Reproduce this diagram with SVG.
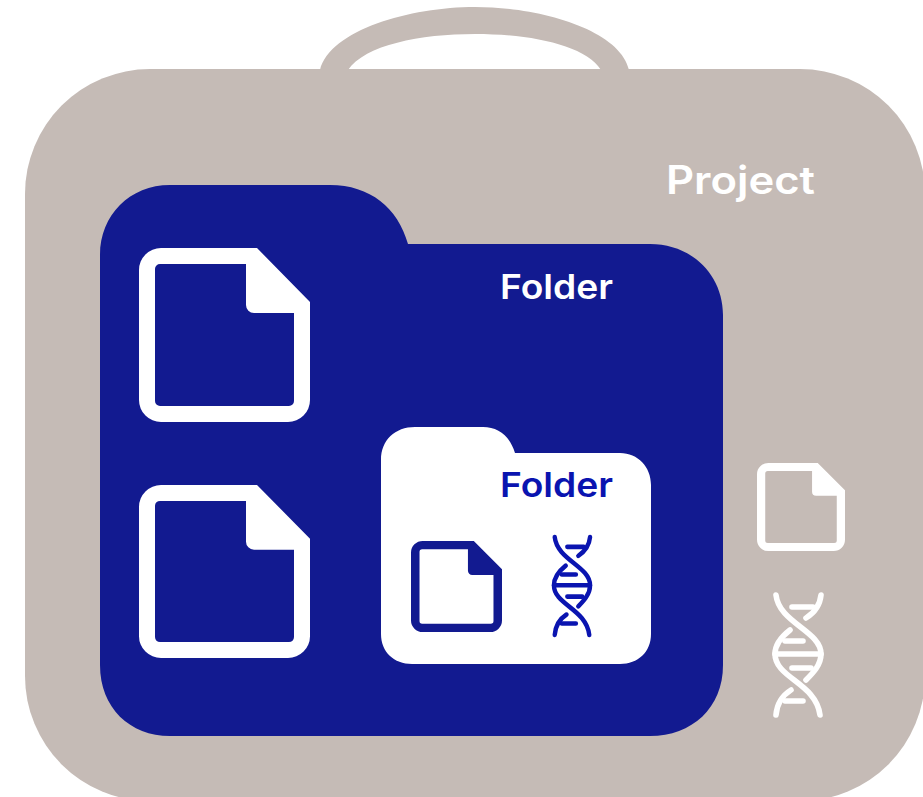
<svg xmlns="http://www.w3.org/2000/svg" width="923" height="797" viewBox="0 0 923 797">
<style>
.lbl{font-family:"Inter","Liberation Sans",sans-serif;font-weight:600}
.w{fill:#fff}
.dna path{fill:none;stroke-width:5.6;stroke-linecap:round}
</style>
<defs>
<symbol id="file" viewBox="0 0 171 174" preserveAspectRatio="none">
<path fill-rule="evenodd" d="M22 0H118L171 54V152a22 22 0 0 1-22 22H22a22 22 0 0 1-22-22V22A22 22 0 0 1 22 0ZM21 16a5 5 0 0 0-5 5V153a5 5 0 0 0 5 5H150a5 5 0 0 0 5-5V65H115a8 8 0 0 1-8-8V16Z"/>
</symbol>
<symbol id="dna" viewBox="-3 -3 56 130" preserveAspectRatio="none">
<g class="dna">
<path d="M3 2C6 30 48 38 48 61C48 72 40 80 33 87"/>
<path d="M48 2C47 12 41 20 33 25"/>
<path d="M17 37C8 44 2 52 2 61C2 85 43 90 47 122"/>
<path d="M3 122C4 110 10 102 18 97"/>
<path d="M19 14H40M12 48H30M2 61H48M19 75H38M12 108H30"/>
</g>
</symbol>
</defs>
<rect width="923" height="797" fill="#fff"/>
<g id="project">
<path fill="#c5bbb6" fill-rule="evenodd" d="M320 70C330 30 410 7 475 7C540 7 620 30 629 70ZM348 70C365 45 420 34 475 34C530 34 585 45 601 70Z"/>
<rect x="25" y="69" width="900" height="732" rx="125" fill="#c5bbb6"/>
<text class="lbl w" x="666" y="194" font-size="39" textLength="149" lengthAdjust="spacingAndGlyphs">Project</text>
</g>
<g id="folder-outer">
<path fill="#121a90" d="M100 255C100 215 130 185 170 185H330C370 185 398 208 408 244H650C692 244 723 275 723 315V665C723 708 692 736 650 736H170C130 736 100 708 100 665Z"/>
<text class="lbl w" x="500" y="299" font-size="34" textLength="113" lengthAdjust="spacingAndGlyphs">Folder</text>
</g>
<g id="file-1"><use href="#file" x="139" y="248" width="171" height="174" fill="#fff"/></g>
<g id="file-2"><use href="#file" x="139" y="485" width="171" height="173" fill="#fff"/></g>
<g id="folder-inner">
<path fill="#fff" d="M381 460C381 440 395 427 415 427H483C498 427 510 436 515 453H620C638 453 651 467 651 485V634C651 652 638 664 620 664H412C394 664 381 652 381 634Z"/>
<text class="lbl" fill="#0a14b0" x="500" y="497" font-size="34" textLength="113" lengthAdjust="spacingAndGlyphs">Folder</text>
</g>
<g id="file-3"><use href="#file" x="411" y="541" width="91" height="91" fill="#121a90"/></g>
<g id="dna-1"><use href="#dna" x="550" y="533" width="44" height="106" stroke="#0a14b0"/></g>
<g id="file-4"><use href="#file" x="757" y="463" width="88" height="88" fill="#fff"/></g>
<g id="dna-2"><use href="#dna" x="770" y="590" width="56" height="130" stroke="#fff"/></g>
<g id="connectors"/>
</svg>
